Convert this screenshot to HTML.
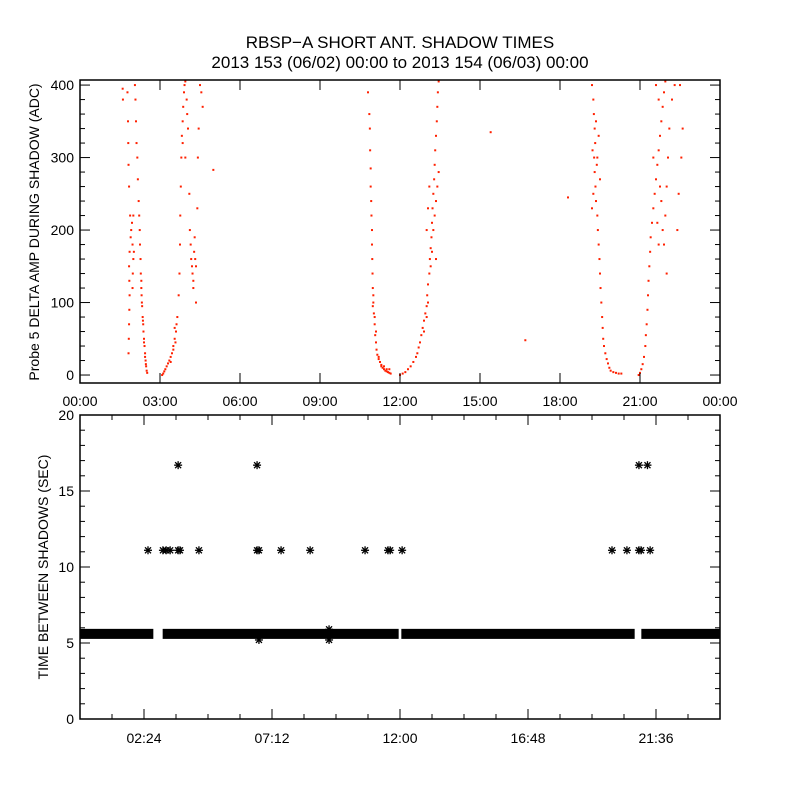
<!DOCTYPE html>
<html><head><meta charset="utf-8"><style>
html,body{margin:0;padding:0;background:#fff;}
svg{display:block;font-family:"Liberation Sans",sans-serif;}
</style></head><body>
<svg id="chart" width="800" height="800" viewBox="0 0 800 800">
<rect width="800" height="800" fill="#fff"/>
<text x="400" y="48" font-size="17" text-anchor="middle">RBSP−A SHORT ANT. SHADOW TIMES</text>
<text x="400" y="68" font-size="17" text-anchor="middle">2013 153 (06/02) 00:00 to 2013 154 (06/03) 00:00</text>
<g id="topPanel"></g>
<g id="botPanel"></g>
<text transform="translate(39,232) rotate(-90)" font-size="14" text-anchor="middle">Probe 5 DELTA AMP DURING SHADOW (ADC)</text>
<text transform="translate(48,567) rotate(-90)" font-size="14" text-anchor="middle">TIME BETWEEN SHADOWS (SEC)</text>
</svg>
<script>
const topXTicks = ["00:00","03:00","06:00","09:00","12:00","15:00","18:00","21:00","00:00"];
const topYTicks = [0,100,200,300,400];
const ampPoints = [
[2.06,400],[2.08,380],[2.1,350],[2.12,320],[2.15,300],[2.17,270],[2.2,240],[2.22,220],[2.24,200],[2.25,180],[2.27,160],[2.28,140],[2.3,130],[2.31,110],[2.33,95],[2.35,80],[2.37,70],[2.38,60],[2.4,50],[2.42,40],[2.44,30],[2.46,20],[2.48,12],[2.5,6],[2.52,3],[2.3,120],[2.32,100],[2.36,75],[2.4,45],[2.44,25],[2.47,15],
[1.82,30],[1.83,50],[1.84,70],[1.85,90],[1.86,110],[1.85,130],[1.84,150],[1.86,170],[1.9,190],[1.92,200],[1.95,210],[1.97,180],[2.0,160],[1.98,140],[1.88,220],[1.84,260],[1.82,290],[1.81,320],[1.8,350],[1.78,390],[1.6,395],[1.61,380],[2.0,220],[2.02,170],[1.97,120],
[3.08,0],[3.12,2],[3.16,5],[3.2,8],[3.25,12],[3.3,16],[3.35,20],[3.4,25],[3.45,30],[3.5,40],[3.55,50],[3.6,60],[3.62,70],[3.65,80],[3.4,18],[3.5,35],[3.58,45],[3.55,65],[3.7,110],[3.73,140],[3.75,180],[3.76,220],[3.78,260],[3.8,300],[3.82,330],[3.85,350],[3.87,370],[3.9,390],[3.92,400],[3.95,405],[4.0,380],[4.02,360],[4.05,340],[3.85,320],[3.95,300],[4.1,250],[4.12,200],[4.15,180],[4.17,160],[4.2,150],[4.22,140],[4.25,130],[4.28,170],[4.3,190],[4.32,160],[4.35,150],[4.25,120],[4.4,230],[4.42,300],[4.45,340],[4.5,400],[4.55,390],[4.6,370],[4.35,100],[5.0,283],
[10.8,390],[10.85,360],[10.87,340],[10.88,310],[10.9,285],[10.9,260],[10.92,240],[10.93,220],[10.95,200],[10.95,180],[10.96,160],[10.97,140],[10.98,120],[11.0,100],[11.02,85],[11.05,70],[11.07,55],[11.1,45],[11.12,35],[11.15,28],[11.2,22],[11.25,18],[11.3,14],[11.35,10],[11.4,8],[11.45,6],[11.5,5],[11.55,4],[11.6,3],[11.65,2],[11.2,25],[11.3,12],[11.4,12],[11.5,8],[11.6,8],[11.0,110],[11.05,80],[11.1,60],[10.98,95],
[12.0,0],[12.1,2],[12.2,4],[12.3,8],[12.4,12],[12.5,18],[12.6,25],[12.65,30],[12.7,38],[12.75,45],[12.8,55],[12.85,65],[12.9,75],[12.95,85],[13.0,95],[13.02,110],[13.05,125],[13.1,140],[13.12,160],[13.15,175],[13.18,190],[13.2,210],[13.22,230],[13.25,250],[13.28,270],[13.3,290],[13.32,310],[13.35,330],[13.38,350],[13.4,370],[13.42,390],[13.45,405],[12.9,60],[13.0,80],[13.05,100],[13.15,150],[13.2,170],[13.25,200],[13.3,220],[13.35,240],[13.05,230],[13.1,260],[13.0,200],[13.4,260],[13.45,280],[13.35,160],[15.4,335],[16.7,48],[18.3,245],
[19.2,400],[19.25,380],[19.27,360],[19.3,340],[19.32,320],[19.28,300],[19.3,280],[19.33,260],[19.35,240],[19.4,220],[19.42,200],[19.45,180],[19.48,160],[19.5,140],[19.52,120],[19.55,100],[19.58,80],[19.6,65],[19.62,50],[19.65,40],[19.7,30],[19.75,22],[19.8,16],[19.85,10],[19.9,6],[20.0,4],[20.1,3],[20.2,2],[20.3,2],[19.25,250],[19.4,300],[19.45,330],[19.38,290],[19.35,350],[19.2,230],[19.5,270],[19.22,310],
[20.95,0],[21.0,3],[21.05,8],[21.1,15],[21.15,25],[21.2,40],[21.22,55],[21.25,70],[21.28,90],[21.3,110],[21.32,130],[21.35,150],[21.38,170],[21.4,190],[21.45,210],[21.5,230],[21.55,250],[21.6,270],[21.65,290],[21.7,310],[21.75,330],[21.8,350],[21.85,370],[21.9,390],[21.95,405],[21.6,400],[21.7,380],[21.8,240],[21.85,200],[21.9,180],[21.95,220],[22.0,260],[22.05,300],[22.1,340],[22.2,380],[22.3,400],[22.5,400],[22.6,340],[22.55,300],[22.45,250],[22.4,200],[21.5,300],[21.75,260],[21.65,210],[22.0,140],[21.7,180]
];
const botXTicks = ["02:24","07:12","12:00","16:48","21:36"];
const botXTickHours = [2.4,7.2,12.0,16.8,21.6];
const botYTicks = [0,5,10,15,20];
const bandSegments = [[0,2.75],[3.1,11.95],[12.05,20.8],[21.05,24]];
const bandValue = 5.6;
const outlierHours = [2.55,3.11,3.23,3.38,3.68,3.75,4.46,6.64,6.71,7.54,8.63,10.69,11.55,11.63,12.08,19.95,20.51,20.96,21.04,21.38, 3.68,6.64,20.96,21.28, 6.71,9.34,9.34];
const outlierValues = [11.1,11.1,11.1,11.1,11.1,11.1,11.1,11.1,11.1,11.1,11.1,11.1,11.1,11.1,11.1,11.1,11.1,11.1,11.1,11.1, 16.7,16.7,16.7,16.7, 5.2,5.2,5.9];

const NS="http://www.w3.org/2000/svg";
function mk(parent,tag,attrs){const e=document.createElementNS(NS,tag);for(const k in attrs)e.setAttribute(k,attrs[k]);parent.appendChild(e);return e;}
const L=80,R=720;
const xS=h=>L+(h/24)*(R-L);
// top panel
const T0=80,T1=383,tyMin=-11,tyMax=407;
const yT=v=>T1-(v-tyMin)/(tyMax-tyMin)*(T1-T0);
const topG=document.getElementById('topPanel');
ampPoints.forEach(p=>{
 const r=mk(topG,'rect',{x:xS(p[0])-1,y:yT(p[1])-1,width:2,height:2,fill:'#ff2000'});
 
 
});
const f1=mk(topG,'rect',{x:L,y:T0,width:R-L,height:T1-T0,fill:'none',stroke:'#000','stroke-width':1.5});


topXTicks.forEach((t,i)=>{
 const x=L+i*(R-L)/8;
 mk(topG,'line',{x1:x,x2:x,y1:T1,y2:T1-10,stroke:'#000'});
 mk(topG,'line',{x1:x,x2:x,y1:T0,y2:T0+10,stroke:'#000'});
 const tx=mk(topG,'text',{x:x,y:406,'font-size':14,'text-anchor':'middle'});tx.textContent=t;
 
 
});
for(let v=0;v<=400;v+=20){
 const y=yT(v),len=v%100===0?10:5;
 mk(topG,'line',{x1:L,x2:L+len,y1:y,y2:y,stroke:'#000'});
 mk(topG,'line',{x1:R,x2:R-len,y1:y,y2:y,stroke:'#000'});
}
topYTicks.forEach(v=>{
 const tx=mk(topG,'text',{x:74,y:yT(v)+5,'font-size':14,'text-anchor':'end'});tx.textContent=v;
 
 
});
// bottom panel
const B0=415,B1=719,byMin=0,byMax=20;
const yB=v=>B1-(v-byMin)/(byMax-byMin)*(B1-B0);
const botG=document.getElementById('botPanel');
bandSegments.forEach(s=>{
 const r=mk(botG,'rect',{x:xS(s[0]),y:yB(bandValue+0.33),width:xS(s[1])-xS(s[0]),height:yB(bandValue-0.33)-yB(bandValue+0.33),fill:'#000'});
 
 
});
outlierHours.forEach((h,i)=>{
 const cx=xS(h),cy=yB(outlierValues[i]);
 const g=mk(botG,'g',{stroke:'#000','stroke-width':1.3});
 
 
 mk(g,'line',{x1:cx-4,x2:cx+4,y1:cy,y2:cy});
 mk(g,'line',{x1:cx,x2:cx,y1:cy-4,y2:cy+4});
 mk(g,'line',{x1:cx-3,x2:cx+3,y1:cy-3,y2:cy+3});
 mk(g,'line',{x1:cx-3,x2:cx+3,y1:cy+3,y2:cy-3});
});
const f2=mk(botG,'rect',{x:L,y:B0,width:R-L,height:B1-B0,fill:'none',stroke:'#000','stroke-width':1.5});


for(let k=1;k<20;k++){
 const h=k*1.2,x=xS(h),maj=(k%4===2),len=maj?10:5;
 mk(botG,'line',{x1:x,x2:x,y1:B1,y2:B1-len,stroke:'#000'});
 mk(botG,'line',{x1:x,x2:x,y1:B0,y2:B0+len,stroke:'#000'});
}
botXTicks.forEach((t,i)=>{
 const tx=mk(botG,'text',{x:xS(botXTickHours[i]),y:743,'font-size':14,'text-anchor':'middle'});tx.textContent=t;
 
 
});
for(let v=0;v<=20;v+=1){
 const y=yB(v),len=v%5===0?10:5;
 mk(botG,'line',{x1:L,x2:L+len,y1:y,y2:y,stroke:'#000'});
 mk(botG,'line',{x1:R,x2:R-len,y1:y,y2:y,stroke:'#000'});
}
botYTicks.forEach(v=>{
 const tx=mk(botG,'text',{x:74,y:yB(v)+5,'font-size':14,'text-anchor':'end'});tx.textContent=v;
 
 
});
</script>
</body></html>
